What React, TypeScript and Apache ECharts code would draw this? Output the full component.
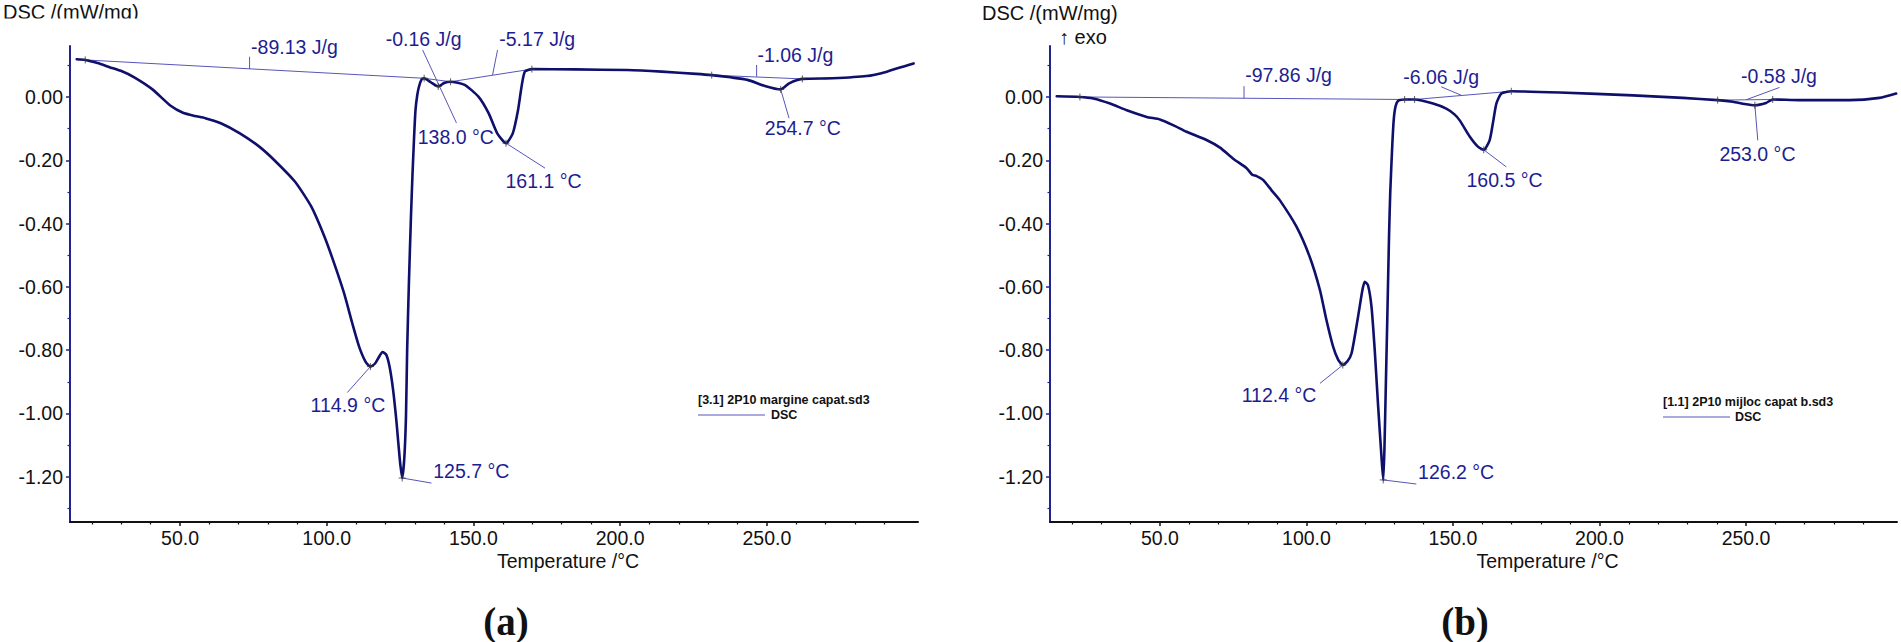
import React, { useEffect, useRef } from "react";
import * as echarts from "echarts";

// Shared axis ranges of both thermograms
const T_RANGE = [12.5, 301.5];
const DSC_RANGE = [-1.343, 0.161];

const xMajorTicks = [50, 100, 150, 200, 250];
const xMinorTicks = [20, 30, 40, 60, 70, 80, 90, 110, 120, 130, 140, 160, 170, 180, 190, 210, 220, 230, 240, 260, 270, 280, 290];
const yMajorTicks = [0, -0.2, -0.4, -0.6, -0.8, -1.0, -1.2];
const yMinorTicks = [0.1, -0.1, -0.3, -0.5, -0.7, -0.9, -1.1, -1.3];

// (a) [3.1] 2P10 margine capat.sd3 — temperature (°C) and DSC signal (mW/mg)
const tempA = [14.8, 17.7, 21.9, 26.0, 30.2, 34.4, 40.6, 46.8, 51.0, 55.0, 58.6, 63.9, 70.4, 77.0, 82.5, 89.2, 94.7, 99.2, 102.5, 105.9, 108.7, 111.0, 113.2, 114.9, 116.4, 117.7, 119.0, 120.3, 121.4, 122.6, 123.8, 124.9, 125.7, 126.4, 127.0, 127.4, 128.0, 128.7, 129.2, 129.75, 130.25, 130.85, 131.45, 132.25, 133.2, 135.5, 138.0, 140.0, 142.2, 147.0, 151.7, 155.2, 158.1, 161.1, 163.4, 165.2, 166.4, 167.5, 169.9, 184.6, 202.3, 214.2, 225.9, 231.2, 237.6, 243.4, 249.3, 254.7, 257.6, 262.1, 272.4, 284.0, 290.9, 297.2, 300.0];
const dscA = [0.119, 0.117, 0.107, 0.094, 0.081, 0.062, 0.024, -0.028, -0.050, -0.060, -0.067, -0.083, -0.115, -0.157, -0.203, -0.268, -0.346, -0.441, -0.525, -0.620, -0.715, -0.788, -0.836, -0.852, -0.843, -0.823, -0.806, -0.815, -0.852, -0.925, -1.030, -1.146, -1.204, -1.146, -1.010, -0.800, -0.588, -0.378, -0.250, -0.130, -0.041, 0.006, 0.033, 0.054, 0.059, 0.046, 0.033, 0.044, 0.048, 0.038, 0.001, -0.052, -0.115, -0.146, -0.115, -0.041, 0.033, 0.080, 0.088, 0.087, 0.085, 0.080, 0.073, 0.069, 0.062, 0.054, 0.035, 0.024, 0.043, 0.057, 0.059, 0.066, 0.080, 0.098, 0.106];

// (b) [1.1] 2P10 mijloc capat b.sd3
const tempB = [14.8, 22.7, 27.3, 33.0, 38.7, 45.5, 50.0, 54.5, 59.1, 65.9, 70.5, 75.0, 79.6, 81.5, 83.0, 85.2, 88.1, 90.9, 96.6, 101.1, 104.6, 106.8, 109.1, 110.8, 112.4, 114.0, 115.4, 117.6, 119.1, 119.9, 121.0, 122.2, 123.3, 124.4, 125.6, 126.2, 126.6, 127.1, 127.6, 128.2, 128.6, 129.3, 129.8, 130.4, 131.3, 133.5, 136.9, 143.2, 147.7, 150.5, 152.3, 155.7, 158.5, 160.5, 162.5, 163.6, 164.8, 166.5, 169.9, 186.4, 211.4, 228.4, 240.3, 245.5, 249.5, 253.0, 256.8, 259.1, 268.2, 285.2, 295.5, 301.2];
const dscB = [0.002, 0.000, -0.005, -0.021, -0.042, -0.063, -0.071, -0.089, -0.110, -0.136, -0.160, -0.195, -0.225, -0.246, -0.250, -0.262, -0.295, -0.326, -0.410, -0.505, -0.610, -0.704, -0.789, -0.830, -0.847, -0.835, -0.810, -0.695, -0.610, -0.584, -0.595, -0.663, -0.800, -0.968, -1.137, -1.210, -1.116, -0.905, -0.694, -0.431, -0.300, -0.150, -0.070, -0.030, -0.012, -0.008, -0.008, -0.021, -0.037, -0.055, -0.074, -0.125, -0.157, -0.167, -0.137, -0.084, -0.021, 0.011, 0.018, 0.014, 0.005, -0.003, -0.010, -0.015, -0.022, -0.026, -0.019, -0.008, -0.010, -0.010, -0.003, 0.011];

// Integration baselines, leader lines, evaluation marks and result texts (data units)
const baselinesA = [
  [[17.7, 0.117], [133.2, 0.059]],
  [[133.2, 0.059], [142.2, 0.048]],
  [[142.2, 0.048], [169.9, 0.088]],
  [[231.2, 0.069], [262.1, 0.057]],
];
const leadersA = [
  [[73.7, 0.127], [73.7, 0.088]],
  [[132.7, 0.148], [144.2, -0.082]],
  [[158.2, 0.148], [156.5, 0.069]],
  [[161.1, -0.146], [174.4, -0.225]],
  [[246.5, 0.101], [246.5, 0.064]],
  [[254.7, 0.024], [257.55, -0.067]],
  [[114.9, -0.852], [107.0, -0.934]],
  [[125.7, -1.204], [135.7, -1.22]],
];
const marksA = [[17.7, 0.117], [133.2, 0.059], [142.2, 0.048], [169.9, 0.088], [231.2, 0.069], [262.1, 0.057], [114.9, -0.852], [125.7, -1.204], [138.0, 0.033], [161.1, -0.146], [254.7, 0.024]];
const labelsA = [
  { text: "-89.13 J/g", at: [74.2, 0.159] },
  { text: "-0.16 J/g", at: [120.1, 0.182] },
  { text: "138.0 °C", at: [131.0, -0.126] },
  { text: "-5.17 J/g", at: [158.8, 0.182] },
  { text: "161.1 °C", at: [160.9, -0.267] },
  { text: "-1.06 J/g", at: [246.8, 0.133] },
  { text: "254.7 °C", at: [249.3, -0.099] },
  { text: "114.9 °C", at: [94.5, -0.973] },
  { text: "125.7 °C", at: [136.3, -1.183] },
];

const baselinesB = [
  [[22.7, 0.0], [133.5, -0.008]],
  [[136.9, -0.008], [169.9, 0.018]],
  [[240.3, -0.01], [259.1, -0.008]],
];
const leadersB = [
  [[78.7, 0.034], [78.7, -0.004]],
  [[146.0, 0.032], [152.9, 0.005]],
  [[160.5, -0.167], [168.2, -0.221]],
  [[261.4, 0.03], [250.0, -0.009]],
  [[253.0, -0.026], [254.0, -0.137]],
  [[112.4, -0.847], [104.6, -0.905]],
  [[126.2, -1.21], [137.5, -1.223]],
];
const marksB = [[22.7, 0.0], [133.5, -0.008], [136.9, -0.008], [169.9, 0.018], [240.3, -0.01], [259.1, -0.008], [112.4, -0.847], [126.2, -1.21], [160.5, -0.167], [253.0, -0.026]];
const labelsB = [
  { text: "-97.86 J/g", at: [79.1, 0.069] },
  { text: "-6.06 J/g", at: [133.0, 0.063] },
  { text: "160.5 °C", at: [154.6, -0.263] },
  { text: "-0.58 J/g", at: [248.3, 0.065] },
  { text: "253.0 °C", at: [240.9, -0.179] },
  { text: "112.4 °C", at: [77.9, -0.942] },
  { text: "126.2 °C", at: [138.1, -1.184] },
];

const SANS = '"Liberation Sans", Arial, sans-serif';
const SERIF = '"Liberation Serif", "Times New Roman", serif';
const CURVE = "#0f0f6c";
const THIN = "#5656ba";
const NOTE = "#1d1d92";
const Y_AXIS = "#23238e";
const INK = "#111111";

const panels = [
  {
    temp: tempA, dsc: dscA, baselines: baselinesA, leaders: leadersA, marks: marksA, labels: labelsA,
    grid: { left: 70, top: 46, width: 848, height: 476 },
  },
  {
    temp: tempB, dsc: dscB, baselines: baselinesB, leaders: leadersB, marks: marksB, labels: labelsB,
    grid: { left: 1050, top: 46, width: 847, height: 476 },
  },
];

function buildOption() {
  const grid = panels.map((p) => ({ ...p.grid, containLabel: false }));
  const xAxis: any[] = [];
  const yAxis: any[] = [];
  const series: any[] = [];

  panels.forEach((p, i) => {
    xAxis.push(
      {
        type: "value", gridIndex: i, position: "bottom", min: T_RANGE[0], max: T_RANGE[1],
        axisLine: { show: true, onZero: false, lineStyle: { color: INK, width: 2 } },
        axisTick: { show: true, customValues: xMajorTicks, length: 4, lineStyle: { color: INK, width: 1.5 } },
        axisLabel: {
          show: true, customValues: xMajorTicks, formatter: (v: number) => v.toFixed(1),
          margin: 6, color: INK, fontSize: 19.5, fontFamily: SANS,
        },
        splitLine: { show: false },
      },
      {
        type: "value", gridIndex: i, position: "bottom", min: T_RANGE[0], max: T_RANGE[1],
        axisLine: { show: false, onZero: false },
        axisTick: { show: true, customValues: xMinorTicks, length: 2.5, lineStyle: { color: INK, width: 1.2 } },
        axisLabel: { show: false, customValues: xMinorTicks },
        splitLine: { show: false },
      }
    );
    yAxis.push(
      {
        type: "value", gridIndex: i, position: "left", min: DSC_RANGE[0], max: DSC_RANGE[1],
        axisLine: { show: true, onZero: false, lineStyle: { color: Y_AXIS, width: 2 } },
        axisTick: { show: true, customValues: yMajorTicks, length: 4, lineStyle: { color: Y_AXIS, width: 1.5 } },
        axisLabel: {
          show: true, customValues: yMajorTicks, formatter: (v: number) => v.toFixed(2),
          margin: 7, color: INK, fontSize: 19.5, fontFamily: SANS,
        },
        splitLine: { show: false },
      },
      {
        type: "value", gridIndex: i, position: "left", min: DSC_RANGE[0], max: DSC_RANGE[1],
        axisLine: { show: false, onZero: false },
        axisTick: { show: true, customValues: yMinorTicks, length: 2.5, lineStyle: { color: Y_AXIS, width: 1.2 } },
        axisLabel: { show: false, customValues: yMinorTicks },
        splitLine: { show: false },
      }
    );

    const axes = { xAxisIndex: 2 * i, yAxisIndex: 2 * i };

    [...p.baselines, ...p.leaders].forEach((seg) => {
      series.push({
        type: "line", ...axes, data: seg, showSymbol: false, silent: true, clip: false, z: 2,
        lineStyle: { color: THIN, width: 1 },
      });
    });

    series.push({
      type: "line", ...axes, name: "DSC",
      data: p.temp.map((t, k) => [t, p.dsc[k]]),
      showSymbol: false, smooth: 0.2, silent: true, z: 3,
      lineStyle: { color: CURVE, width: 2.6, join: "round", cap: "round" },
    });

    series.push({
      type: "scatter", ...axes, data: p.marks, silent: true, z: 4,
      symbol: "path://M0 5L10 5M5 0L5 10", symbolSize: 7,
      itemStyle: { color: "transparent", borderColor: "#3a3a3a", borderWidth: 1 },
    });
  });

  return { animation: false, backgroundColor: "#ffffff", grid, xAxis, yAxis, series };
}

function text(x: number, y: number, str: string, opts: any = {}) {
  const align = opts.align || "left";
  return {
    type: "text", x, y, silent: true, z: 10,
    style: {
      text: str, fill: opts.fill || INK,
      font: opts.font || `19.5px ${SANS}`,
      align, textAlign: align, verticalAlign: "middle", textVerticalAlign: "middle",
    },
  };
}

function staticGraphics() {
  const legendFont = `bold 12.5px ${SANS}`;
  return [
    text(3, 12, "DSC /(mW/mg)", { font: `20px ${SANS}` }),
    { type: "rect", shape: { x: 0, y: 18.6, width: 150, height: 6 }, style: { fill: "#ffffff" }, silent: true, z: 11 },
    text(982, 12.5, "DSC /(mW/mg)", { font: `20px ${SANS}` }),
    text(1059, 37, "↑ exo", { font: `20px ${SANS}` }),

    text(568, 561, "Temperature /°C", { align: "center" }),
    text(1547.5, 561, "Temperature /°C", { align: "center" }),

    text(698, 400, "[3.1] 2P10 margine capat.sd3", { font: legendFont }),
    { type: "line", shape: { x1: 698, y1: 415, x2: 765, y2: 415 }, style: { stroke: THIN, lineWidth: 1.2 }, silent: true },
    text(771, 415, "DSC", { font: legendFont }),

    text(1663, 402, "[1.1] 2P10 mijloc capat b.sd3", { font: legendFont }),
    { type: "line", shape: { x1: 1663, y1: 417, x2: 1730, y2: 417 }, style: { stroke: THIN, lineWidth: 1.2 }, silent: true },
    text(1735, 417, "DSC", { font: legendFont }),

    text(506, 621, "(a)", { align: "center", font: `bold 39px ${SERIF}` }),
    text(1465, 621, "(b)", { align: "center", font: `bold 39px ${SERIF}` }),
  ];
}

export default function App() {
  const ref = useRef<HTMLDivElement>(null);

  useEffect(() => {
    if (!ref.current) return;
    const chart = echarts.init(ref.current, null, { renderer: "svg" });
    chart.setOption(buildOption());

    const notes: any[] = [];
    panels.forEach((p, i) => {
      p.labels.forEach((l) => {
        const pt = chart.convertToPixel({ xAxisIndex: 2 * i, yAxisIndex: 2 * i } as any, l.at) as number[];
        if (pt) notes.push(text(pt[0], pt[1], l.text, { fill: NOTE }));
      });
    });
    chart.setOption({ graphic: [...staticGraphics(), ...notes] });

    return () => chart.dispose();
  }, []);

  return (
    <div
      ref={ref}
      style={{ position: "fixed", left: 0, top: 0, width: 1901, height: 642, background: "#fff" }}
    />
  );
}
